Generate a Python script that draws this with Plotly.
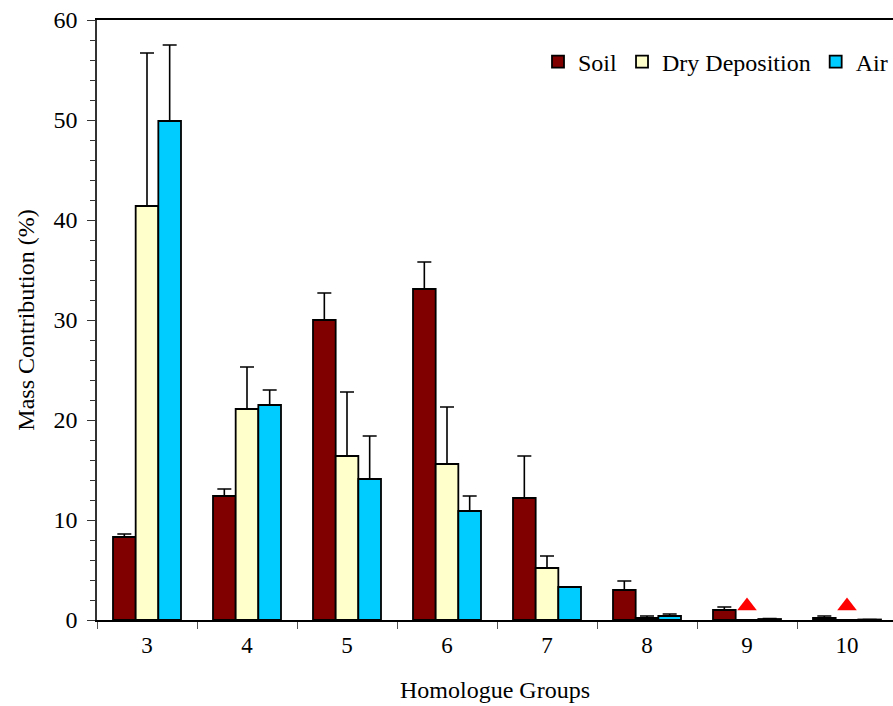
import plotly.graph_objects as go

groups = ["3", "4", "5", "6", "7", "8", "9", "10"]
soil = [8.3, 12.4, 30.0, 33.1, 12.2, 3.0, 1.0, 0.2]
soil_err = [0.3, 0.7, 2.7, 2.7, 4.2, 0.9, 0.3, 0.2]
dry = [41.4, 21.1, 16.4, 15.6, 5.2, 0.2, 0.0, 0.0]
dry_err = [15.3, 4.2, 6.4, 5.7, 1.2, 0.2, 0.0, 0.0]
air = [49.9, 21.5, 14.1, 10.9, 3.3, 0.4, 0.1, 0.05]
air_err = [7.6, 1.5, 4.3, 1.5, 0.0, 0.2, 0.05, 0.0]
flag_groups = ["9", "10"]
flag_values = [1.4, 1.4]

font_family = "Liberation Serif"

def bar(name, vals, errs, color):
    return go.Bar(
        name=name, x=groups, y=vals,
        marker=dict(color=color, line=dict(color="black", width=1.8)),
        error_y=dict(type="data", array=errs, arrayminus=[0] * len(errs),
                     symmetric=False, color="black", thickness=1.6, width=7),
    )

fig = go.Figure()
fig.add_trace(bar("Soil", soil, soil_err, "#800000"))
fig.add_trace(bar("Dry Deposition", dry, dry_err, "#FFFFCC"))
fig.add_trace(bar("Air", air, air_err, "#00CCFF"))
fig.add_trace(go.Scatter(
    x=flag_groups, y=flag_values, mode="markers", showlegend=False,
    marker=dict(symbol="triangle-up", color="#FF0000", size=17),
))

fig.update_layout(
    width=893, height=706,
    margin=dict(l=97, r=0, t=20, b=86),
    plot_bgcolor="white", paper_bgcolor="white",
    barmode="group", bargap=0.32, bargroupgap=0,
    font=dict(family=font_family, size=24, color="black"),
    legend=dict(orientation="h", x=1.0, xanchor="right", y=0.93, yanchor="middle",
                font=dict(size=24), bgcolor="rgba(0,0,0,0)",
                itemwidth=30, tracegroupgap=0),
    xaxis=dict(
        type="category", range=[-0.5, 7.46],
        showline=True, linecolor="black", linewidth=1.5, mirror=True,
        ticks="outside", tickson="boundaries", ticklen=7, tickcolor="#555555",
        showgrid=False, tickfont=dict(size=23), ticklabelstandoff=4,
        title=dict(text="Homologue Groups", font=dict(size=24), standoff=24),
    ),
    yaxis=dict(
        range=[0, 60], dtick=10, showline=True, linecolor="#333333", linewidth=1.5,
        ticks="outside", ticklen=8, tickcolor="#333333", showgrid=False, zeroline=False,
        minor=dict(dtick=2, ticks="outside", ticklen=5, tickcolor="#333333"),
        tickfont=dict(size=24), ticklabelstandoff=5,
        title=dict(text="Mass Contribution (%)", font=dict(size=24), standoff=12),
    ),
)

fig.write_html("out.html")
